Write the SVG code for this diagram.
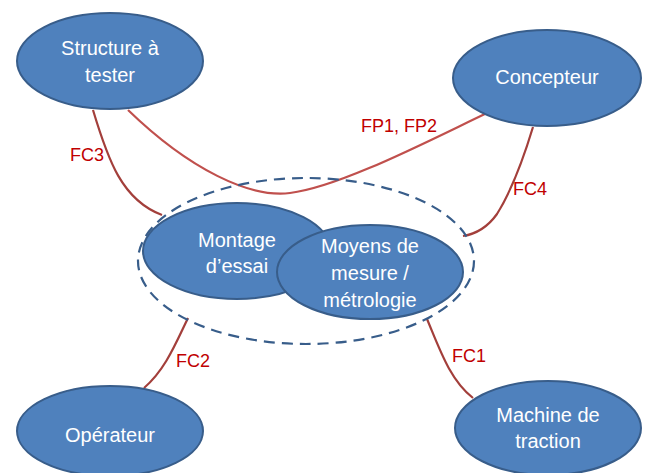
<svg xmlns="http://www.w3.org/2000/svg" width="645" height="473" viewBox="0 0 645 473">
<style>
.node{fill:#4F81BD;stroke:#385D8A;stroke-width:2}
.nt{font-family:"Liberation Sans",Arial,sans-serif;font-size:20px;fill:#FFFFFF;text-anchor:middle}
.fc{fill:none;stroke:#A33F3B;stroke-width:2.2}
.fp{fill:none;stroke:#C0504D;stroke-width:2.2}
.lbl{font-family:"Liberation Sans",Arial,sans-serif;font-size:18px;fill:#C00000}
.grp{fill:none;stroke:#385D8A;stroke-width:2.2;stroke-dasharray:11 7}
</style>
<rect width="645" height="473" fill="#FFFFFF"/>
<g id="connectors">
<path class="fp" d="M128,110 C190,170 250,198 290,193 C340,187 430,140 487,113"/>
<path class="fc" d="M93,110 C108,160 122,200 162,215"/>
<path class="fc" d="M533,127 C520,170 507,198 497,214 C487,228 476,234 463,236"/>
<path class="fc" d="M188,318 C175,345 165,370 144,388"/>
<path class="fc" d="M427,319 C440,350 450,380 473,398"/>
<text class="lbl" x="70" y="161">FC3</text>
<text class="lbl" x="361" y="132">FP1, FP2</text>
<text class="lbl" x="513" y="195">FC4</text>
<text class="lbl" x="176" y="367">FC2</text>
<text class="lbl" x="452" y="362">FC1</text>
</g>
<g id="structure">
<ellipse class="node" cx="110" cy="61" rx="93" ry="48"/>
<text class="nt" x="110" y="55">Structure à</text>
<text class="nt" x="110" y="82">tester</text>
</g>
<g id="concepteur">
<ellipse class="node" cx="547" cy="78" rx="94" ry="48"/>
<text class="nt" x="547" y="84">Concepteur</text>
</g>
<g id="systeme">
<ellipse class="grp" cx="306" cy="261" rx="168" ry="83"/>
</g>
<g id="montage">
<ellipse class="node" cx="237" cy="251" rx="94" ry="48"/>
<text class="nt" x="237" y="247">Montage</text>
<text class="nt" x="237" y="273">d’essai</text>
</g>
<g id="moyens">
<ellipse class="node" cx="370" cy="272" rx="93" ry="47"/>
<text class="nt" x="370" y="253">Moyens de</text>
<text class="nt" x="370" y="280">mesure /</text>
<text class="nt" x="370" y="307">métrologie</text>
</g>
<g id="operateur">
<ellipse class="node" cx="110" cy="431" rx="93" ry="45"/>
<text class="nt" x="110" y="442">Opérateur</text>
</g>
<g id="machine">
<ellipse class="node" cx="548" cy="428" rx="93" ry="47"/>
<text class="nt" x="548" y="422">Machine de</text>
<text class="nt" x="548" y="448">traction</text>
</g>
</svg>
